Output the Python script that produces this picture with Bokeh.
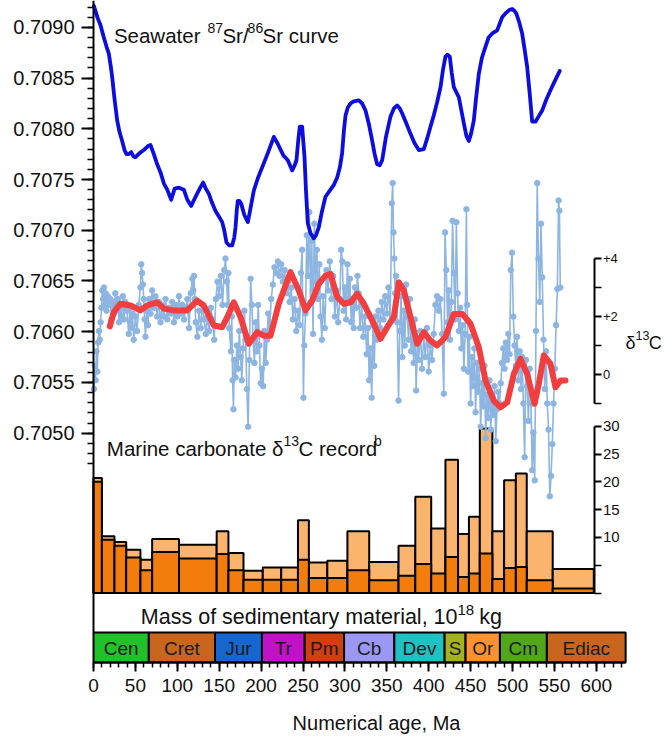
from bokeh.plotting import figure
from bokeh.models import Range1d, LinearAxis, FixedTicker, PrintfTickFormatter, ColumnDataSource
from bokeh.embed import file_html
from bokeh.resources import INLINE
from bokeh.core.properties import value

# ------------------------------------------------------------------ data
# Seawater 87Sr/86Sr curve: (age Ma, ratio)
sr_curve_points = [
    (0.5, 0.70921), (2.4, 0.70916), (5, 0.70909), (8.4, 0.70902), (12, 0.70891), (15.5, 0.70881),
    (18.3, 0.70874), (20.5, 0.70862), (22.3, 0.70851), (25, 0.70830), (28.3, 0.70808), (31, 0.70797),
    (34.2, 0.70788), (37, 0.70779), (39.4, 0.70775), (42, 0.70775), (45, 0.70777), (47.5, 0.70773),
    (50.1, 0.70772), (55, 0.70776), (60, 0.70779), (65, 0.70783), (68, 0.70784), (72, 0.70775),
    (76, 0.70765), (80, 0.70757), (84, 0.70746), (88, 0.70740), (92.7, 0.70730), (96.8, 0.70741),
    (102, 0.70742), (107.8, 0.70740), (112, 0.70730), (116.6, 0.70724), (120, 0.70730), (123.7, 0.70736),
    (128, 0.70743), (130.9, 0.70747), (134, 0.70741), (137.6, 0.70736), (141, 0.70728), (145.6, 0.70719),
    (150, 0.70713), (153.6, 0.70708), (156, 0.70700), (158.7, 0.70688), (162, 0.70685), (165.5, 0.70685),
    (168, 0.70693), (169.5, 0.70703), (171, 0.70720), (172.2, 0.70729), (174, 0.70729), (176.3, 0.70726),
    (180, 0.70715), (184.2, 0.70708), (187, 0.70720), (191.3, 0.70739), (196, 0.70751), (201.3, 0.70762),
    (208, 0.70776), (215.2, 0.70792), (220, 0.70785), (226.4, 0.70774), (231.9, 0.70769), (237.1, 0.70759),
    (240, 0.70764), (242.2, 0.70769), (244.5, 0.70790), (246.2, 0.70802), (249, 0.70802), (251.8, 0.70772),
    (253.5, 0.70740), (255.7, 0.70707), (259, 0.70697), (262.9, 0.70692), (265.5, 0.70695), (268.9, 0.70703),
    (272.5, 0.70718), (276.8, 0.70733), (282.8, 0.70740), (287, 0.70745), (290.8, 0.70752), (294, 0.70762),
    (296.7, 0.70776), (298.7, 0.70797), (300.7, 0.70813), (303.5, 0.70821), (306.7, 0.70825), (310.6, 0.70827),
    (316.6, 0.70828), (320.5, 0.70825), (324.6, 0.70818), (328.5, 0.70805), (332.6, 0.70788), (335.5, 0.70775),
    (338.5, 0.70765), (341.5, 0.70764), (344.5, 0.70769), (349, 0.70792), (354.4, 0.70812), (358.5, 0.70820),
    (362.4, 0.70823), (365.5, 0.70820), (368.4, 0.70815), (373, 0.70806), (378.3, 0.70795), (383, 0.70786),
    (388.2, 0.70779), (394.2, 0.70780), (398, 0.70790), (402.1, 0.70802), (406, 0.70813), (410, 0.70826),
    (414.1, 0.70841), (417, 0.70858), (420, 0.70871), (422.5, 0.70873), (425.2, 0.70871), (427.5, 0.70855),
    (430, 0.70841), (433, 0.70836), (436, 0.70831), (439, 0.70818), (442, 0.70805), (445, 0.70793),
    (447.9, 0.70788), (450.5, 0.70795), (453.8, 0.70808), (456.5, 0.70830), (459.8, 0.70854), (463.5, 0.70870),
    (467.8, 0.70881), (471.5, 0.70890), (475.8, 0.70894), (481.7, 0.70897), (484.5, 0.70903), (487.7, 0.70910),
    (492, 0.70914), (496, 0.70917), (499.6, 0.70918), (502.5, 0.70916), (504.8, 0.70913), (508, 0.70905),
    (511.5, 0.70894), (514.5, 0.70878), (517.5, 0.70861), (520.5, 0.70835), (523.5, 0.70807), (527.4, 0.70807),
    (531, 0.70812), (535.4, 0.70818), (540, 0.70828), (545.3, 0.70838), (551, 0.70848), (556.4, 0.70857),
]

# Marine carbonate d13C raw record: (age Ma, permil)
d13c_raw_points = [
    (0.5, -0.5), (1.5, 0.3), (2.5, -0.2), (3.5, 0.8), (4.5, 0.1), (5.5, 1.1), (6.5, 1.5), (7.5, 1.2), (8.5, 1.8), (9.5, 2.3),
    (10.5, 2.9), (11.5, 2.6), (12.5, 3.0), (13.5, 2.4), (14.5, 2.8), (15.5, 2.2), (17, 2.7), (18.5, 2.4), (20, 2.6), (21.5, 1.9),
    (23, 2.5), (24.5, 2.1), (26, 2.8), (27.5, 2.2), (29, 2.6), (30.5, 1.8), (32, 2.4), (33.5, 2.0), (35, 2.7), (36.5, 1.9),
    (38, 2.5), (40, 2.2), (42, 1.4), (43.5, 2.3), (45, 1.6), (46.5, 2.1), (48, 1.2), (50, 2.0), (52, 1.5), (54, 2.4),
    (56, 3.0), (57, 3.8), (58, 3.5), (59, 3.1), (60, 2.6), (61, 1.9), (62, 1.3), (63.5, 2.2), (65, 1.7), (66.5, 2.6),
    (68, 2.1), (70, 2.9), (72, 2.3), (74, 2.7), (76, 2.0), (78, 2.5), (80, 1.8), (82, 2.4), (84, 2.0), (86, 2.6),
    (88, 1.9), (90, 2.3), (92, 2.1), (94, 2.5), (96, 1.8), (98, 2.4), (100, 2.0), (102, 2.7), (104, 2.1), (106, 2.4),
    (108, 1.9), (110, 2.3), (112, 2.6), (114, 1.6), (116, 2.8), (118, 3.3), (119, 2.9), (120, 3.4), (121, 2.6), (122, 1.8),
    (124, 1.3), (126, 2.2), (128, 1.6), (130, 2.4), (132, 1.9), (134, 1.4), (136, 2.0), (138, 1.5), (140, 2.3), (142, 1.9),
    (144, 1.2), (146, 2.6), (148, 3.2), (150, 2.7), (152, 3.4), (154, 2.4), (156, 3.6), (157.5, 4.0), (159, 3.2), (160, 2.4),
    (161, 3.5), (162, 1.6), (164, 0.8), (165, 2.0), (166, -0.2), (167, -1.2), (168, 0.5), (169.5, -0.1), (171, 1.0), (172.5, 0.2),
    (174, 1.5), (175.5, 0.6), (177, -0.2), (178.5, 0.9), (180, 2.2), (181.5, 1.2), (183, -0.5), (184.5, -1.8), (186, 0.5), (187.5, 3.3),
    (189, 2.4), (190.5, 1.2), (192, 0.4), (193.5, 1.8), (195, 0.8), (196.5, 2.4), (198, 1.0), (199.5, -0.3), (201, 0.2), (202.5, -0.4),
    (204, 1.5), (205.5, 0.4), (207, 1.2), (208.5, 2.1), (210, 1.4), (212, 2.6), (214, 3.1), (216, 3.7), (218, 3.5), (220, 3.9),
    (222, 3.4), (224, 3.8), (226, 3.2), (228, 3.6), (230, 2.8), (232, 3.2), (234, 2.5), (236, 3.0), (238, 1.9), (240, 2.6),
    (242, 1.5), (244, 2.2), (246, 1.7), (247.5, 3.5), (249, 4.3), (250.5, -0.8), (251.5, 1.0), (253, 2.1), (254.5, 4.8), (256, 3.4),
    (257.5, 5.6), (259, 2.5), (260.5, 4.6), (262, 1.4), (263.5, 5.2), (265, 3.2), (266.5, 4.3), (268, 2.6), (269.5, 3.8), (271, 2.0),
    (272.5, 1.2), (274, 2.7), (276, 1.6), (278, 3.6), (280, 2.9), (282, 3.9), (284, 2.6), (286, 3.4), (288, 2.0), (290, 2.9),
    (292, 1.8), (294, 2.6), (295.5, 4.3), (297, 3.9), (298.5, 2.2), (300, 3.0), (301.5, 1.9), (303, 3.8), (304.5, 2.6), (306, 3.3),
    (307.5, 1.8), (309, 2.5), (310.5, 1.6), (312, 3.0), (313.5, 2.3), (315, 3.4), (316.5, 2.8), (318, 1.6), (320, 2.4), (322, 1.3),
    (324, 2.0), (326, 0.7), (327.5, 1.6), (329, -0.2), (330.5, 0.9), (332, -0.8), (333.5, 1.7), (335, 0.3), (336.5, 2.0), (338, 1.2),
    (340, 2.2), (342, 1.6), (344, 2.5), (346, 1.9), (348, 2.7), (350, 2.1), (352, 3.0), (354, 1.8), (356, 5.9), (357, 6.6),
    (358, 4.9), (359, 4.0), (360, 2.8), (361, 3.4), (362.5, 1.8), (364, -0.9), (365.5, 1.5), (367, 2.7), (368.5, 0.6), (370, 2.2),
    (371.5, 1.0), (373, 3.1), (374.5, 2.0), (376, 1.2), (377.5, 2.6), (379, 0.8), (380.5, 1.6), (382, 0.4), (383.5, 1.9), (385, -0.55),
    (386.5, 1.1), (388, 0.5), (390, 1.5), (392, 0.2), (394, 1.3), (396, 0.6), (398, 1.6), (400, 0.1), (402, 1.0), (404, 0.5),
    (406, 1.4), (408, 2.4), (410, 2.7), (412, 2.2), (414, 2.6), (416, 1.4), (418, -0.66), (419.5, 4.9), (421, 3.6), (422.5, 1.8),
    (424, 2.9), (425.5, 1.2), (427, 2.5), (428.5, 5.3), (430, 3.5), (431.5, 1.9), (433, 5.25), (434.5, 2.8), (436, 1.5), (437.5, 2.3),
    (439, 0.9), (440.5, 1.7), (442, 0.2), (443.5, 1.4), (445, 5.7), (446, 2.4), (447, 0.1), (448.5, 1.3), (450, -1.0), (451.5, 0.6),
    (453, -0.4), (454.5, 0.9), (456, -1.3), (457.5, 0.4), (459, -0.6), (460.5, 0.2), (462, -1.8), (463.5, -0.3), (465, -1.1), (466.5, 0.3),
    (468, -2.2), (469.5, -0.7), (471, -1.5), (472.5, -0.2), (474, -1.9), (475.5, -0.9), (477, -1.4), (478.5, -0.4), (480, -2.3), (481.5, -1.2),
    (483, -0.6), (484.5, -1.0), (486, -0.3), (487.5, 0.4), (489, 0.9), (490.5, 0.2), (492, 1.1), (493.5, 0.5), (495, 1.4), (496.5, 0.7),
    (498, 3.6), (499.5, 4.2), (501, 2.0), (502.5, 1.0), (504, 0.3), (505.5, 1.3), (507, -0.2), (508.5, 0.8), (510, -0.5), (511.5, 0.6),
    (513, -1.0), (514.5, -2.85), (516, 0.5), (517.5, -0.4), (519, -1.6), (520.5, 0.2), (522, -1.0), (523.5, -3.3), (525, -2.0), (526.5, -3.65),
    (528, 1.5), (529.5, 6.6), (531, 4.0), (532.5, 2.5), (534, 5.2), (535.5, 3.35), (537, 1.2), (538.5, -0.5), (540, 0.8), (541.5, -1.0),
    (543, -1.9), (544.5, -4.2), (546, -3.5), (547.5, -2.4), (549, -1.0), (550.5, 0.2), (552, 1.7), (553.5, 2.95), (555, 6.0), (556, 5.65),
    (557, 3.0),
]

# Smoothed d13C curve: (age Ma, permil)
d13c_smooth_points = [
    (19.5, 1.66), (24.2, 2.15), (32.2, 2.44), (44.2, 2.38), (56, 2.21), (64, 2.38), (76, 2.49), (84, 2.27),
    (95.8, 2.21), (111.8, 2.21), (123.7, 2.55), (131.6, 2.38), (143.6, 1.69), (153.6, 1.63), (161.5, 2.09),
    (167.4, 2.49), (175.4, 1.98), (185.3, 1.06), (195.3, 1.46), (203.2, 1.34), (211.2, 1.34), (221.1, 2.44),
    (235.1, 3.53), (245, 2.90), (253, 2.21), (261, 2.55), (268.9, 3.13), (276.8, 3.41), (282.8, 3.47),
    (290.8, 2.67), (298.7, 2.44), (306.7, 2.49), (314.6, 2.78), (322.6, 2.44), (332.6, 1.86), (342.5, 1.23),
    (350.5, 1.63), (358.4, 1.98), (364.4, 3.18), (370.3, 2.90), (376.3, 2.21), (386.3, 1.06), (394.2, 1.46),
    (402.1, 1.17), (410.1, 1.00), (420, 1.29), (430, 2.09), (440, 2.09), (449.9, 1.75), (459.8, 0.94),
    (467.8, -0.21), (477.7, -0.90), (485.7, -1.13), (493.7, -0.96), (501.6, 0.02), (509.5, 0.54), (517.5, 0.02),
    (526.3, -1.01), (531.4, -0.32), (537.4, 0.66), (545.3, 0.37), (551.3, -0.44), (557.3, -0.21), (563.2, -0.21),
]

# Mass of sedimentary material (10^18 kg): age bins, total and darker (lower) part
mass_bin_edges = [0, 10, 25, 39, 56, 70, 102, 147, 161, 179, 202, 224, 244, 257, 279, 303, 329, 364,
                  384, 403, 420, 435, 448, 461, 476, 490, 504, 517, 548, 597]
mass_total = [20.7, 10.2, 9.2, 7.8, 6.0, 9.7, 8.7, 11.1, 7.2, 4.0, 4.6, 4.6, 13.1, 5.5, 5.8, 11.1, 5.6,
              8.5, 17.3, 11.6, 24.0, 10.6, 13.7, 29.6, 11.1, 20.3, 21.5, 11.1, 4.3]
mass_lower = [20.0, 9.6, 8.5, 6.4, 4.1, 7.4, 6.2, 7.0, 4.1, 2.4, 2.4, 2.4, 6.0, 2.7, 2.7, 4.1, 2.3,
              3.1, 5.2, 3.5, 6.5, 2.9, 3.5, 7.1, 2.5, 4.5, 4.7, 2.3, 0.8]

# Geologic time scale
period_names = ["Cen", "Cret", "Jur", "Tr", "Pm", "Cb", "Dev", "S", "Or", "Cm", "Ediac"]
period_start = [0, 66, 145, 201, 252, 299, 359, 419, 444, 485, 541]
period_end = [66, 145, 201, 252, 299, 359, 419, 444, 485, 541, 635]

# Tick labels
sr_tick_values = [0.7050, 0.7055, 0.7060, 0.7065, 0.7070, 0.7075, 0.7080, 0.7085, 0.7090]
age_tick_values = [0, 50, 100, 150, 200, 250, 300, 350, 400, 450, 500, 550, 600]
d13c_tick_values = [0, 2, 4]
d13c_tick_labels = {0: "0", 2: "+2", 4: "+4"}
mass_tick_values = [10, 15, 20, 25, 30]

# ------------------------------------------------------------------ styles
period_colors = ["#22c12a", "#c8661f", "#1766d0", "#c212c6", "#cf3f10", "#9a98f2",
                 "#1fc1c3", "#a3b223", "#ff9130", "#52a61c", "#c8661f"]
FONT = "Liberation Sans"
INK = "#111111"

# Arial / Liberation Sans advance widths (per 1000 em) for laying out superscripts
ADV = {' ': 278, 'S': 667, 'e': 556, 'a': 556, 'w': 722, 't': 278, 'r': 333, '/': 278, 'c': 500,
       'u': 556, 'v': 500, 'M': 833, 'i': 222, 'n': 556, 'b': 556, 'o': 556, '\u03b4': 556, 'C': 722,
       'd': 556, 'f': 278, 'm': 833, 'y': 500, 'l': 222, ',': 278, 'k': 500, 'g': 556}
WIDTH_FUDGE = 0.96

# ------------------------------------------------------------------ geometry (canvas pixels)
W, H = 664, 740
PAGE_TOP, PAGE_BOTTOM = 0, H
FRAME_LEFT_PAGE = 93          # where age 0 sits
PX_PER_MA = 0.838


def ma_at(xpage):
    return (xpage - FRAME_LEFT_PAGE) / PX_PER_MA


def page_lin(v_a, y_a, v_b, y_b):
    k = (v_b - v_a) / (y_b - y_a)
    return lambda y: v_a + (y - y_a) * k


sr_at = page_lin(0.7090, 26.8, 0.7050, 432.7)
d_at = page_lin(4.0, 258.0, 0.0, 374.0)
m_at = page_lin(30.0, 425.8, 0.0, 592.5)


def rng(f):
    return Range1d(start=f(PAGE_BOTTOM), end=f(PAGE_TOP))


p = figure(width=W, height=H, output_backend="svg", toolbar_location=None,
           x_range=Range1d(ma_at(0), ma_at(W)), y_range=rng(sr_at),
           x_axis_location=None, y_axis_location=None,
           min_border_left=0, min_border_right=0, min_border_top=0, min_border_bottom=0,
           outline_line_color=None, background_fill_color="white", border_fill_color="white")
for g in p.grid:
    g.visible = False

p.extra_y_ranges = {
    "d13c": rng(d_at),
    "mass": rng(m_at),
    "page": Range1d(start=PAGE_BOTTOM, end=PAGE_TOP),
}


def style_axis(ax, size, tick_out, minor_out, standoff):
    ax.axis_line_color = "black"
    ax.axis_line_width = 2
    ax.major_tick_line_color = "black"
    ax.major_tick_line_width = 2
    ax.minor_tick_line_color = "black"
    ax.minor_tick_line_width = 1.5
    ax.major_tick_in = 0
    ax.minor_tick_in = 0
    ax.major_tick_out = tick_out
    ax.minor_tick_out = minor_out
    ax.major_label_text_font = FONT
    ax.major_label_text_font_size = size
    ax.major_label_text_color = INK
    ax.major_label_standoff = standoff


# Left Sr axis (spine runs down to the time-scale bar)
sr_minor = [round(0.7047 + 0.0001 * i, 4) for i in range(46)]
sr_axis = LinearAxis(fixed_location=0,
                     ticker=FixedTicker(ticks=sr_tick_values, minor_ticks=sr_minor),
                     formatter=PrintfTickFormatter(format="%.4f"),
                     bounds=(sr_at(632), sr_at(PAGE_TOP)))
style_axis(sr_axis, "20px", 12, 6, 7)
p.add_layout(sr_axis, "left")

# Bottom age axis (below the time-scale bar)
age_axis = LinearAxis(y_range_name="page", fixed_location=662, bounds=(0, 635),
                      ticker=FixedTicker(ticks=age_tick_values, minor_ticks=list(range(0, 640, 10))))
style_axis(age_axis, "19px", 9, 5, 7)
p.add_layout(age_axis, "below")

# Right d13C axis
d_axis = LinearAxis(y_range_name="d13c", fixed_location=ma_at(593.5), bounds=(-1, 4),
                    ticker=FixedTicker(ticks=d13c_tick_values, minor_ticks=[-1, 1, 3]),
                    major_label_overrides=d13c_tick_labels)
style_axis(d_axis, "13px", 7, 7, 2)
p.add_layout(d_axis, "right")

# Right mass axis
m_axis = LinearAxis(y_range_name="mass", fixed_location=ma_at(593.5), bounds=(0, 30),
                    ticker=FixedTicker(ticks=mass_tick_values, minor_ticks=[0, 5]))
style_axis(m_axis, "15px", 7, 7, 2)
p.add_layout(m_axis, "right")

# ------------------------------------------------------------------ glyphs
bars = ColumnDataSource(dict(left=mass_bin_edges[:-1], right=mass_bin_edges[1:],
                             total=mass_total, lower=mass_lower))
p.quad(left="left", right="right", bottom=0, top="total", source=bars, y_range_name="mass",
       fill_color="#fbb46d", line_color="black", line_width=2)
p.quad(left="left", right="right", bottom=0, top="lower", source=bars, y_range_name="mass",
       fill_color="#f27d0c", line_color="black", line_width=2)

raw_age, raw_val = zip(*d13c_raw_points)
p.line(list(raw_age), list(raw_val), y_range_name="d13c", line_color="#8db5e2", line_width=1.6)
p.scatter(list(raw_age), list(raw_val), y_range_name="d13c", size=5.5, fill_color="#8db5e2",
          line_color="#8db5e2")

sm_age, sm_val = zip(*d13c_smooth_points)
p.line(list(sm_age), list(sm_val), y_range_name="d13c", line_color="#f23e3e", line_width=6,
       line_join="round", line_cap="round")

sr_age, sr_val = zip(*sr_curve_points)
p.line(list(sr_age), list(sr_val), line_color="#0d0de0", line_width=3.8, line_join="round",
       line_cap="round")

# Geologic time-scale bar
ts = ColumnDataSource(dict(left=period_start, right=period_end, color=period_colors, name=period_names,
                           mid=[(a + b) / 2 for a, b in zip(period_start, period_end)]))
p.quad(left="left", right="right", top=632, bottom=662, source=ts, y_range_name="page",
       fill_color="color", line_color="black", line_width=2)
p.text(x="mid", y=648, text="name", source=ts, y_range_name="page", text_align="center",
       text_baseline="middle", text_font=value(FONT), text_font_size=value("19px"), text_color="#1c1c1c")


# Free texts (superscripts drawn as smaller raised pieces)
def text_width(txt, size):
    return sum(ADV.get(ch, 556) for ch in txt) * size / 1000.0 * WIDTH_FUDGE


def draw_piece(x, y, txt, fs, align="left"):
    p.text(x=[ma_at(x)], y=[y], text=[txt], y_range_name="page", text_align=align,
           text_baseline="alphabetic", text_font=value(FONT), text_font_size=value(f"{fs}px"),
           text_color=INK)


def put_rich(x_join, baseline, head, parts, size, sup_size, raise_px, gap=0.0):
    """head is right-aligned to x_join; following parts flow to the right from x_join + gap."""
    draw_piece(x_join, baseline, head, size, align="right")
    x = x_join + gap
    for txt, sup in parts:
        fs = sup_size if sup else size
        y = baseline - raise_px if sup else baseline
        stripped = txt.lstrip(" ")
        x += text_width(txt[:len(txt) - len(stripped)], size)
        draw_piece(x, y, stripped, fs)
        x += text_width(stripped, fs)


put_rich(200, 35, "Seawater", [("87", True), ("Sr/", False), ("86", True), ("Sr curve", False)],
         20.5, 14, 8, gap=7)
put_rich(283, 448, "Marine carbonate \u03b4", [("13", True), ("C record", False), ("b", True)],
         20.5, 14, 8)
put_rich(457, 616, "Mass of sedimentary material, 10", [("18", True), (" kg", False)],
         21.5, 15, 7)
put_rich(635, 342, "\u03b4", [("13", True), ("C", False)], 18, 12.5, 7)

p.text(x=[ma_at(376)], y=[722], text=["Numerical age, Ma"], y_range_name="page", text_align="center",
       text_baseline="middle", text_font=value(FONT), text_font_size=value("20px"), text_color=INK)

open("out.html", "w").write(file_html(p, INLINE))
